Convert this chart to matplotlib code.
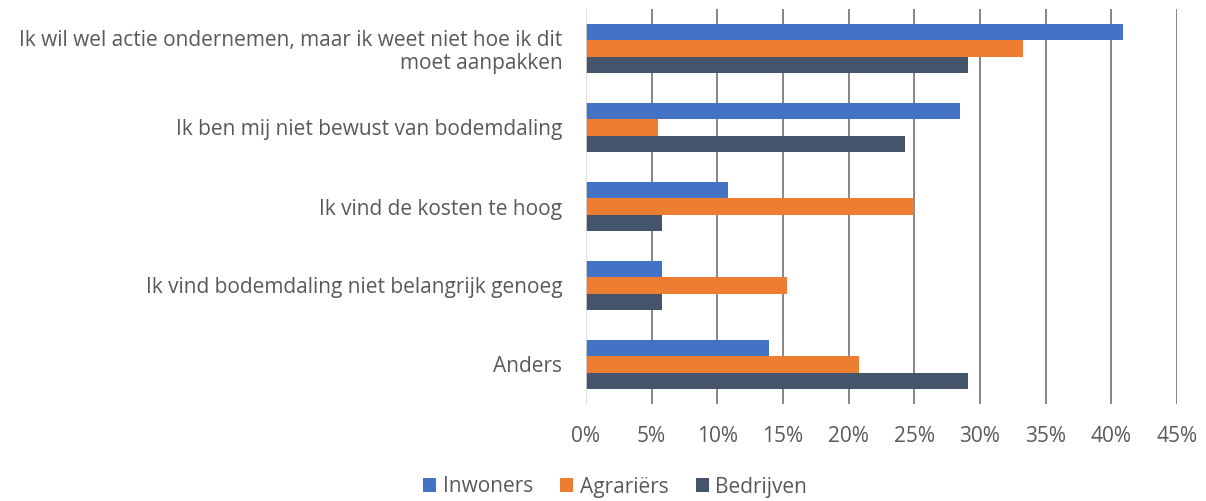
import matplotlib.pyplot as plt
import numpy as np

# categorieën (van boven naar beneden)
categories = [
    "Ik wil wel actie ondernemen, maar ik weet niet hoe ik dit\nmoet aanpakken",
    "Ik ben mij niet bewust van bodemdaling",
    "Ik vind de kosten te hoog",
    "Ik vind bodemdaling niet belangrijk genoeg",
    "Anders",
]
series_names = ["Inwoners", "Agrariërs", "Bedrijven"]
inwoners = [40.9, 28.5, 10.8, 5.8, 13.9]
agrariers = [33.3, 5.5, 25.0, 15.3, 20.8]
bedrijven = [29.1, 24.3, 5.8, 5.8, 29.1]
xticks = [0, 5, 10, 15, 20, 25, 30, 35, 40, 45]

colors = ["#4472C4", "#ED7D31", "#44546A"]
text_col = "#595959"
fs = 15

plt.rcParams["font.family"] = ["Open Sans", "DejaVu Sans"]

fig = plt.figure(figsize=(12.06, 5.01), dpi=100)
ax = fig.add_axes([586 / 1206, 1 - 404 / 501, (1177 - 586) / 1206, (404 - 9) / 501])

y = np.arange(len(categories))
h = 0.205
for k, (vals, name) in enumerate(zip([inwoners, agrariers, bedrijven], series_names)):
    ax.barh(y + (k - 1) * h, vals, height=h, color=colors[k], label=name, zorder=3)

ax.set_ylim(len(categories) - 0.5, -0.5)
ax.set_xlim(0, 45)
ax.set_xticks(xticks)
ax.set_xticklabels([f"{t}%" for t in xticks], fontsize=fs, color=text_col)
ax.set_yticks(y)
ax.set_yticklabels(categories, fontsize=fs, color=text_col, ha="right",
                   linespacing=1.15)
ax.tick_params(axis="both", length=0)
ax.tick_params(axis="x", pad=16)
ax.tick_params(axis="y", pad=17)

for t in xticks[1:]:
    ax.axvline(t, color="#868686", lw=1.4, zorder=1)
ax.axvline(0, color="#D9D9D9", lw=1.2, zorder=4)
for s in ax.spines.values():
    s.set_visible(False)

fig.legend(loc="center", bbox_to_anchor=(615 / 1206, 1 - 487 / 501), ncol=3,
           frameon=False, fontsize=fs, labelcolor=text_col, handlelength=0.65,
           handleheight=0.65, handletextpad=0.3, columnspacing=1.3)

fig.savefig("out.png", dpi=100)
